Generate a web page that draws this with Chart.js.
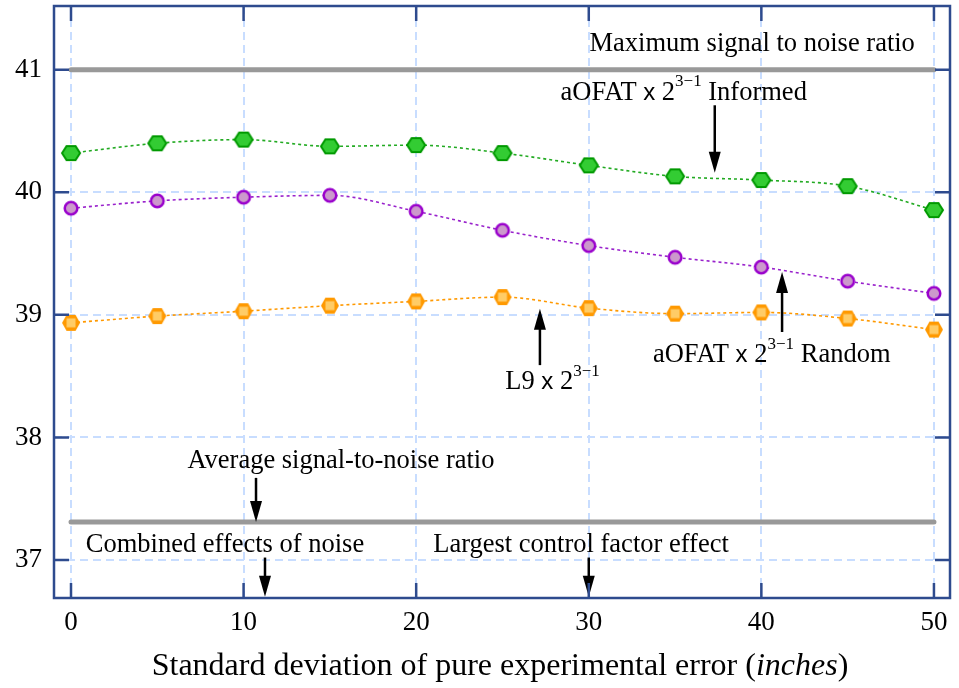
<!DOCTYPE html>
<html>
<head>
<meta charset="utf-8">
<script src="https://cdn.jsdelivr.net/npm/chart.js@4/dist/chart.umd.min.js"></script>
<style>
  html, body { margin: 0; padding: 0; background: #fff; }
</style>
</head>
<body>
<canvas id="chart" width="959" height="688"></canvas>
<script>
"use strict";

// data
const sigma = [0, 5, 10, 15, 20, 25, 30, 35, 40, 45, 50];
const informed = [40.32, 40.40, 40.43, 40.375, 40.385, 40.32, 40.22, 40.13, 40.10, 40.05, 39.855];
const random = [39.87, 39.93, 39.96, 39.975, 39.845, 39.69, 39.565, 39.47, 39.39, 39.275, 39.175];
const l9 = [38.935, 38.99, 39.03, 39.075, 39.11, 39.145, 39.055, 39.01, 39.02, 38.97, 38.88];
const maxSN = 41;
const avgSN = 37.31;
const xTicks = [0, 10, 20, 30, 40, 50];
const yTicks = [37, 38, 39, 40, 41];

const SERIF = '"Liberation Serif", "Times New Roman", serif';
const SANS = '"Liberation Sans", Arial, sans-serif';
const FRAME = '#2e4b8e';

function hexagon(ctx, cx, cy, w, h) {
    ctx.beginPath();
    ctx.moveTo(cx - w / 2, cy);
    ctx.lineTo(cx - w / 4, cy - h / 2);
    ctx.lineTo(cx + w / 4, cy - h / 2);
    ctx.lineTo(cx + w / 2, cy);
    ctx.lineTo(cx + w / 4, cy + h / 2);
    ctx.lineTo(cx - w / 4, cy + h / 2);
    ctx.closePath();
}

function makeMarker(kind) {
    const c = document.createElement('canvas');
    c.width = 24;
    c.height = 22;
    const g = c.getContext('2d');
    if (kind === 'hex') {
        hexagon(g, 12, 11, 18, 14);
        g.fillStyle = '#33cc33';
        g.fill();
        g.lineWidth = 2;
        g.strokeStyle = '#009900';
        g.stroke();
    } else if (kind === 'circle') {
        g.beginPath();
        g.arc(12, 11, 6.3, 0, Math.PI * 2);
        g.fillStyle = '#cc99cc';
        g.fill();
        g.lineWidth = 2.5;
        g.strokeStyle = '#9900cc';
        g.stroke();
    } else {
        hexagon(g, 12, 11, 18, 16);
        g.fillStyle = '#ff9900';
        g.fill();
        g.fillStyle = '#ffcc66';
        g.fillRect(7.5, 6.5, 9, 9);
    }
    return c;
}

function series(values, color, marker) {
    return {
        data: sigma.map((x, i) => ({ x: x, y: values[i] })),
        borderColor: color,
        borderWidth: 1.6,
        borderDash: [3, 3],
        cubicInterpolationMode: 'monotone',
        pointStyle: makeMarker(marker),
        pointRadius: 8
    };
}

function flat(value) {
    return {
        data: [{ x: 0, y: value }, { x: 50, y: value }],
        borderColor: '#999999',
        borderWidth: 5,
        borderCapStyle: 'round',
        pointRadius: 0
    };
}

// labels and arrows, placed in data units
const notes = [
    { x: 39.47, y: 41.21, parts: [['Maximum signal to noise ratio']] },
    { x: 35.5, y: 40.81, parts: [['aOFAT '], ['x', 'sans'], [' 2'], ['3\u22121', 'sup'], [' Informed']] },
    { x: 40.6, y: 38.67, parts: [['aOFAT '], ['x', 'sans'], [' 2'], ['3\u22121', 'sup'], [' Random']] },
    { x: 27.9, y: 38.45, parts: [['L9 '], ['x', 'sans'], [' 2'], ['3\u22121', 'sup']] },
    { x: 15.64, y: 37.81, parts: [['Average signal-to-noise ratio']] },
    { x: 8.92, y: 37.12, parts: [['Combined effects of noise']] },
    { x: 29.55, y: 37.12, parts: [['Largest control factor effect']] }
];
const arrows = [
    { x: 37.3, from: 40.71, to: 40.16 },
    { x: 41.2, from: 38.86, to: 39.35 },
    { x: 27.17, from: 38.59, to: 39.05 },
    { x: 10.72, from: 37.67, to: 37.31 },
    { x: 11.24, from: 37.02, to: 36.70 },
    { x: 30.0, from: 37.02, to: 36.70 }
];

function partFont(kind) {
    if (kind === 'sans') return '24px ' + SANS;
    if (kind === 'sup') return '17px ' + SERIF;
    return '26.5px ' + SERIF;
}

const notesPlugin = {
    id: 'notes',
    afterDatasetsDraw(chart) {
        const ctx = chart.ctx;
        const xs = chart.scales.x;
        const ys = chart.scales.y;
        ctx.save();
        ctx.fillStyle = '#000';
        ctx.textBaseline = 'middle';
        ctx.textAlign = 'left';
        notes.forEach(n => {
            let w = 0;
            n.parts.forEach(p => {
                ctx.font = partFont(p[1]);
                w += ctx.measureText(p[0]).width;
            });
            let px = xs.getPixelForValue(n.x) - w / 2;
            const py = ys.getPixelForValue(n.y);
            n.parts.forEach(p => {
                ctx.font = partFont(p[1]);
                ctx.fillText(p[0], px, p[1] === 'sup' ? py - 11 : py);
                px += ctx.measureText(p[0]).width;
            });
        });
        ctx.strokeStyle = '#000';
        ctx.lineWidth = 2.5;
        arrows.forEach(a => {
            const px = xs.getPixelForValue(a.x);
            const y0 = ys.getPixelForValue(a.from);
            const y1 = ys.getPixelForValue(a.to);
            const dir = y1 > y0 ? 1 : -1;
            ctx.beginPath();
            ctx.moveTo(px, y0);
            ctx.lineTo(px, y1 - dir * 18);
            ctx.stroke();
            ctx.beginPath();
            ctx.moveTo(px, y1);
            ctx.lineTo(px - 6, y1 - dir * 21);
            ctx.lineTo(px + 6, y1 - dir * 21);
            ctx.closePath();
            ctx.fill();
        });
        ctx.restore();
    },
    afterDraw(chart) {
        const ctx = chart.ctx;
        const a = chart.chartArea;
        const xs = chart.scales.x;
        const ys = chart.scales.y;
        ctx.save();
        ctx.strokeStyle = FRAME;
        ctx.lineWidth = 2.5;
        ctx.strokeRect(a.left, a.top, a.right - a.left, a.bottom - a.top);
        ctx.beginPath();
        xTicks.forEach(v => {
            const px = xs.getPixelForValue(v);
            ctx.moveTo(px, a.bottom);
            ctx.lineTo(px, a.bottom - 15);
            ctx.moveTo(px, a.top);
            ctx.lineTo(px, a.top + 15);
        });
        yTicks.forEach(v => {
            const py = ys.getPixelForValue(v);
            ctx.moveTo(a.left, py);
            ctx.lineTo(a.left + 15, py);
            ctx.moveTo(a.right, py);
            ctx.lineTo(a.right - 15, py);
        });
        ctx.stroke();

        // axis title with italic unit
        const parts = [['Standard deviation of pure experimental error (', ''], ['inches', 'italic '], [')', '']];
        let w = 0;
        parts.forEach(p => {
            ctx.font = p[1] + '32px ' + SERIF;
            w += ctx.measureText(p[0]).width;
        });
        let px = 500 - w / 2;
        ctx.fillStyle = '#000';
        ctx.textBaseline = 'middle';
        parts.forEach(p => {
            ctx.font = p[1] + '32px ' + SERIF;
            ctx.fillText(p[0], px, 667);
            px += ctx.measureText(p[0]).width;
        });
        ctx.restore();
    }
};

new Chart(document.getElementById('chart'), {
    type: 'line',
    data: {
        datasets: [
            flat(maxSN),
            flat(avgSN),
            series(l9, '#ff9900', 'oct'),
            series(random, '#9922cc', 'circle'),
            series(informed, '#22aa22', 'hex')
        ]
    },
    options: {
        responsive: false,
        animation: false,
        layout: { autoPadding: false, padding: { top: 6, right: 9, left: 0, bottom: 0 } },
        plugins: {
            legend: { display: false },
            tooltip: { enabled: false }
        },
        scales: {
            x: {
                type: 'linear',
                min: -0.985,
                max: 50.93,
                afterBuildTicks: s => { s.ticks = xTicks.map(v => ({ value: v })); },
                afterFit: s => { s.height = 90; s.paddingLeft = 0; s.paddingRight = 0; },
                ticks: { color: '#000', padding: 9, font: { family: SERIF, size: 27 } },
                grid: { color: '#c8ddff', lineWidth: 2, drawTicks: false },
                border: { display: false, dash: [8, 5] }
            },
            y: {
                min: 36.69,
                max: 41.52,
                afterBuildTicks: s => { s.ticks = yTicks.map(v => ({ value: v })); },
                afterFit: s => { s.width = 54; s.paddingTop = 0; s.paddingBottom = 0; },
                ticks: { color: '#000', padding: 12, font: { family: SERIF, size: 27 } },
                grid: { color: '#c8ddff', lineWidth: 2, drawTicks: false },
                border: { display: false, dash: [8, 5] }
            }
        }
    },
    plugins: [notesPlugin]
});
</script>
</body>
</html>
